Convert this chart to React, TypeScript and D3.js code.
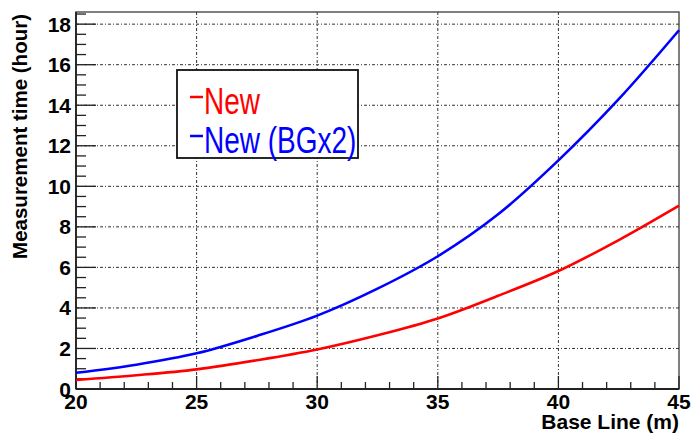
import { useEffect, useRef } from 'react'
import * as d3 from 'd3'

// base line (m)
const baseLine = [20, 22.5, 25, 27.5, 30, 32.5, 35, 37.5, 40, 42.5, 45]
// measurement time (hour)
const timeNew = [0.45, 0.68, 0.97, 1.42, 1.95, 2.65, 3.48, 4.6, 5.82, 7.35, 9.05]
const timeNewBG2 = [0.8, 1.2, 1.76, 2.62, 3.62, 4.95, 6.55, 8.62, 11.28, 14.3, 17.7]

const xMajor = [20, 25, 30, 35, 40, 45]
const yMajor = [0, 2, 4, 6, 8, 10, 12, 14, 16, 18]

const series = [
	{ label: 'New', color: '#ff0000', values: timeNew },
	{ label: 'New (BGx2)', color: '#0000ff', values: timeNewBG2 },
]

const font = '"Liberation Sans", Arial, sans-serif'

const App = () => {
	const ref = useRef<SVGSVGElement>(null)

	const width = 692
	const height = 436
	const margins = { top: 12, right: 13, bottom: 47, left: 76 }
	const innerW = width - margins.left - margins.right
	const innerH = height - margins.top - margins.bottom

	useEffect(() => {
		const svg = d3.select(ref.current)
		svg.selectAll('*').remove()

		const x = d3.scaleLinear().domain([20, 45]).range([0, innerW])
		const y = d3.scaleLinear().domain([0, 18.6]).range([innerH, 0])

		const g = svg
			.append('g')
			.attr('transform', `translate(${margins.left},${margins.top})`)

		// frame
		g.append('rect')
			.attr('width', innerW)
			.attr('height', innerH)
			.attr('fill', 'white')
			.attr('stroke', '#555')
			.attr('stroke-width', 1.5)

		// grid
		g.append('g')
			.selectAll('line')
			.data(xMajor.slice(1, -1))
			.enter()
			.append('line')
			.attr('x1', (d) => x(d))
			.attr('x2', (d) => x(d))
			.attr('y1', 0)
			.attr('y2', innerH)
			.attr('stroke', '#333')
			.attr('stroke-dasharray', '3,2,1,2')
		g.append('g')
			.selectAll('line')
			.data(yMajor.slice(1))
			.enter()
			.append('line')
			.attr('x1', 0)
			.attr('x2', innerW)
			.attr('y1', (d) => y(d))
			.attr('y2', (d) => y(d))
			.attr('stroke', '#333')
			.attr('stroke-dasharray', '3,2,1,2')

		// minor ticks
		const xMinor = d3.range(20, 45.01, 1)
		g.append('g')
			.selectAll('line')
			.data(xMinor)
			.enter()
			.append('line')
			.attr('x1', (d) => x(d))
			.attr('x2', (d) => x(d))
			.attr('y1', innerH)
			.attr('y2', (d) => innerH - (d % 5 === 0 ? 13 : 7))
			.attr('stroke', '#222')
			.attr('stroke-width', 1.3)
		const yMinor = d3.range(0, 18.51, 0.5)
		g.append('g')
			.selectAll('line')
			.data(yMinor)
			.enter()
			.append('line')
			.attr('x1', 0)
			.attr('x2', (d) => (d % 2 === 0 ? 20 : 10))
			.attr('y1', (d) => y(d))
			.attr('y2', (d) => y(d))
			.attr('stroke', '#222')
			.attr('stroke-width', 1.3)

		// axis lines
		g.append('line')
			.attr('x1', 0)
			.attr('x2', innerW)
			.attr('y1', innerH)
			.attr('y2', innerH)
			.attr('stroke', '#222')
			.attr('stroke-width', 1.8)
		g.append('line')
			.attr('x1', 0)
			.attr('x2', 0)
			.attr('y1', 0)
			.attr('y2', innerH)
			.attr('stroke', '#222')
			.attr('stroke-width', 1.8)

		// tick labels
		g.append('g')
			.selectAll('text')
			.data(xMajor)
			.enter()
			.append('text')
			.attr('x', (d) => x(d))
			.attr('y', innerH + 20)
			.attr('text-anchor', 'middle')
			.style('font', `bold 21px ${font}`)
			.text((d) => d)
		g.append('g')
			.selectAll('text')
			.data(yMajor)
			.enter()
			.append('text')
			.attr('x', -5)
			.attr('y', (d) => y(d) + 7.5)
			.attr('text-anchor', 'end')
			.style('font', `bold 21px ${font}`)
			.text((d) => d)

		// axis titles
		svg.append('text')
			.attr('x', margins.left + innerW)
			.attr('y', 429)
			.attr('text-anchor', 'end')
			.style('font', `bold 21px ${font}`)
			.text('Base Line (m)')
		svg.append('text')
			.attr('transform', `translate(27,${margins.top + 2}) rotate(-90)`)
			.attr('text-anchor', 'end')
			.style('font', `bold 20.5px ${font}`)
			.text('Measurement time (hour)')

		// curves
		const line = d3
			.line<number>()
			.x((_, i) => x(baseLine[i]))
			.y((d) => y(d))
			.curve(d3.curveCatmullRom)
		series.forEach((s) => {
			g.append('path')
				.datum(s.values)
				.attr('d', line)
				.attr('fill', 'none')
				.attr('stroke', s.color)
				.attr('stroke-width', 2.6)
		})

		// legend
		const lg = svg.append('g').attr('transform', 'translate(177,70)')
		lg.append('rect')
			.attr('width', 181)
			.attr('height', 88)
			.attr('fill', 'white')
			.attr('stroke', '#111')
			.attr('stroke-width', 1.8)
		series.forEach((s, i) => {
			const cy = 27 + i * 39
			lg.append('line')
				.attr('x1', 13)
				.attr('x2', 26)
				.attr('y1', cy)
				.attr('y2', cy)
				.attr('stroke', s.color)
				.attr('stroke-width', 2.5)
			lg.append('text')
				.attr('transform', `translate(27,${cy + 17}) scale(1,1.32)`)
				.attr('fill', s.color)
				.style('font', `28px ${font}`)
				.text(s.label)
		})
	})

	return (
		<svg
			ref={ref}
			width={width}
			height={height}
			style={{ position: 'absolute', left: 0, top: 0 }}
		/>
	)
}

export default App
